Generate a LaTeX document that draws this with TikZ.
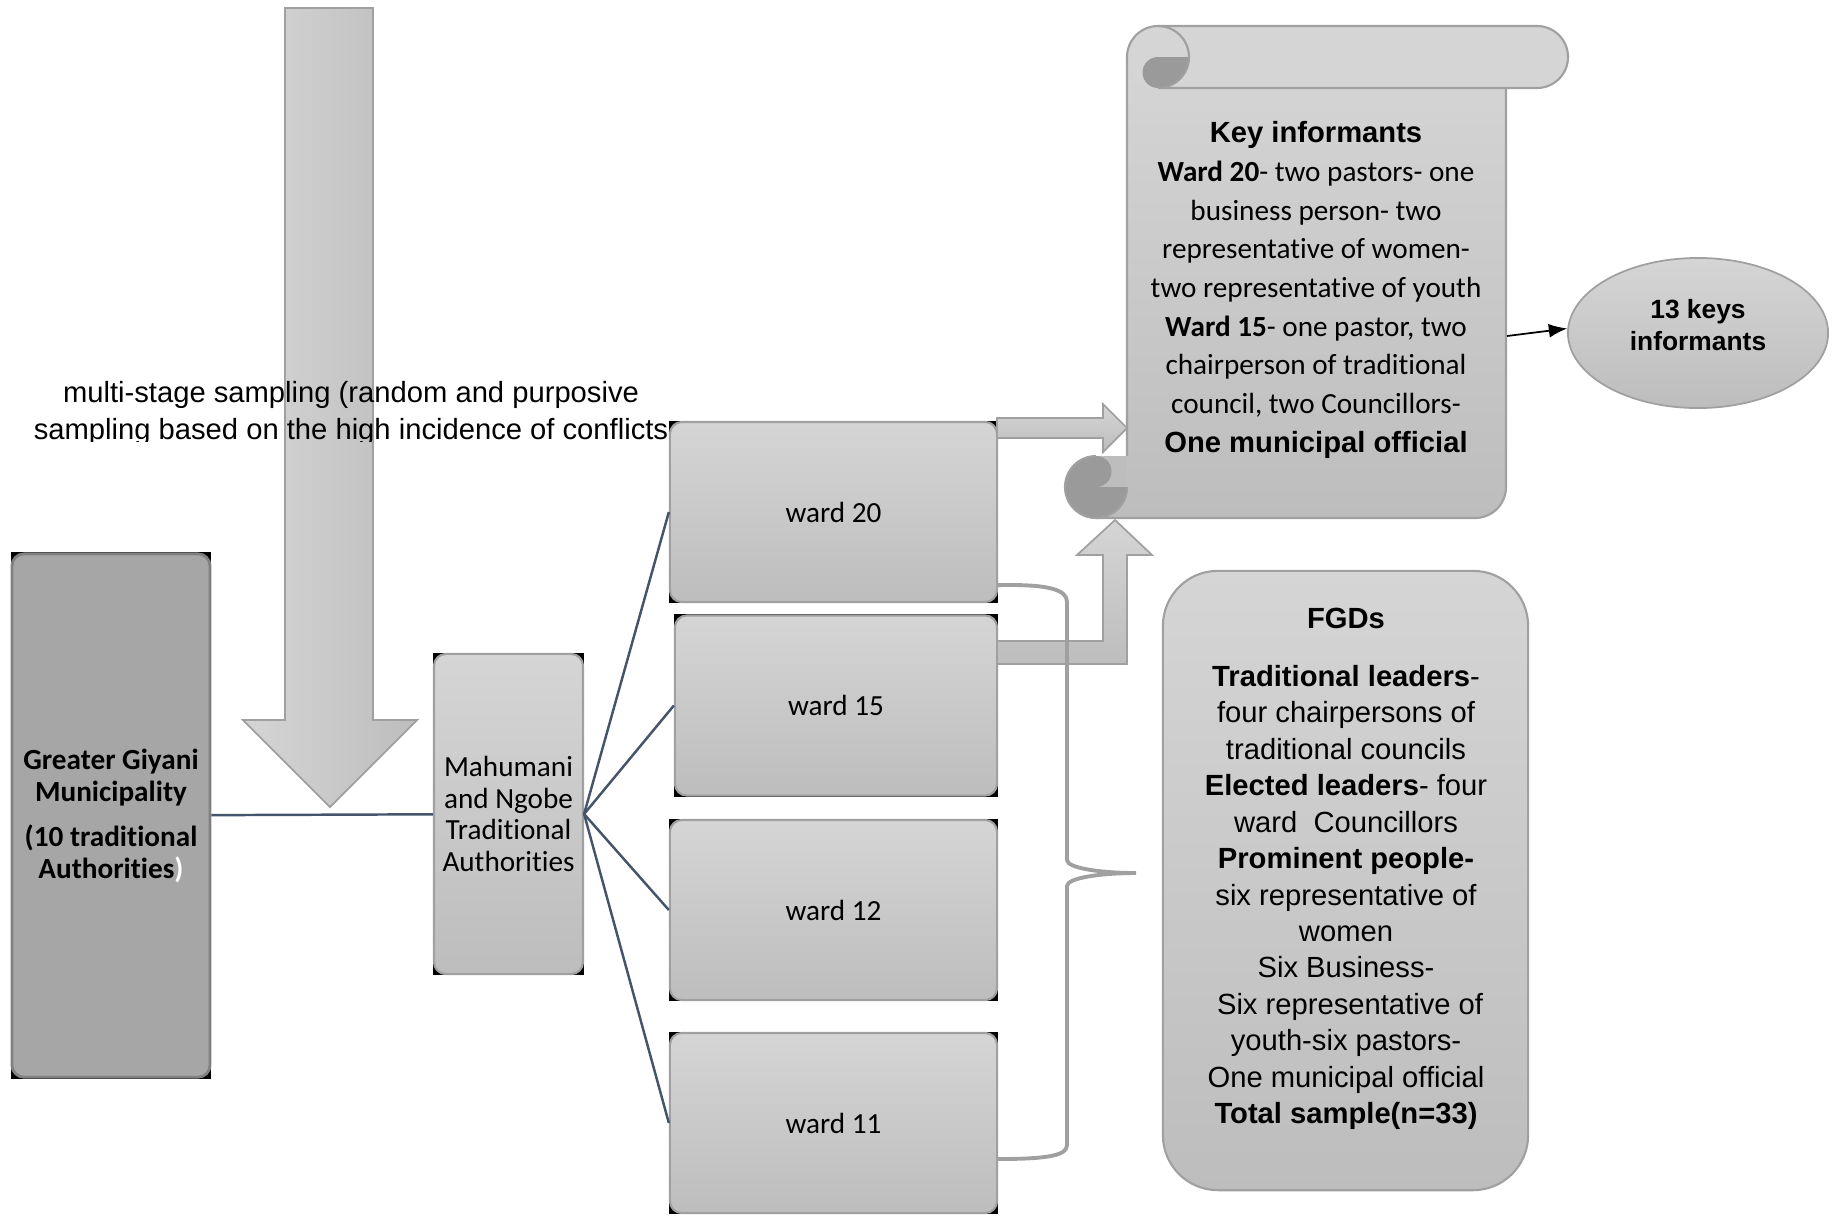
\documentclass[tikz,border=0pt]{standalone}
\usepackage{fontspec}
\setmainfont{Carlito}[Ligatures=NoCommon]
\newfontfamily\arialfont{Liberation Sans}
\usepackage{xcolor}
\usetikzlibrary{arrows.meta,calc,shapes.geometric}
\definecolor{boxtop}{HTML}{D5D5D5}
\definecolor{boxbot}{HTML}{BDBDBD}
\definecolor{boxedge}{HTML}{A0A0A0}
\definecolor{curlgrey}{HTML}{9A9A9A}
\definecolor{darkfill}{HTML}{A6A6A6}
\definecolor{darkedge}{HTML}{808080}
\definecolor{linkcol}{HTML}{44546A}
\pgfdeclarelayer{background}
\pgfsetlayers{background,main}

\begin{document}
\begin{tikzpicture}[x=0.01cm,y=-0.01cm,>=Latex,
  every node/.style={font=\fontsize{8.3}{11}\selectfont,inner sep=0pt,align=center},
  greybox/.style={draw=boxedge,line width=0.6pt,rounded corners=1.2mm,top color=boxtop,bottom color=boxbot},
  wardbox/.style={greybox,minimum width=3.27cm,minimum height=1.8cm},
  link/.style={draw=linkcol,line width=0.7pt},
  blockarrow/.style={draw=boxedge,line width=0.5pt,top color=boxtop,bottom color=boxbot},
  arial/.style={font=\arialfont\fontsize{8.3}{10.36}\selectfont}]
  \useasboundingbox (0,0) rectangle (1840,1217);

  % big sampling arrow
  \shade[left color=boxtop,right color=boxbot,draw=boxedge,line width=0.5pt]
    (285,8) -- (373,8) -- (373,720) -- (417,720) -- (330,807) -- (243,720) -- (285,720) -- cycle;
  \begin{scope}
    \clip (0,340) rectangle (700,441);
    \node[arial,font=\arialfont\fontsize{8.3}{10.6}\selectfont] (msamp) at (351,413.5)
      {multi-stage sampling (random and purposive\\sampling based on the high incidence of conflicts};
  \end{scope}

  % boxes
  \node[draw=darkedge,line width=0.8pt,fill=darkfill,rounded corners=1.2mm,
        minimum width=1.98cm,minimum height=5.23cm,font=\fontsize{8.3}{9.1}\selectfont\bfseries]
    (ggm) at (111,815.5) {Greater Giyani\\Municipality\\[3.7pt](10 traditional\\Authorities\textcolor{white}{)}};
  \node[greybox,minimum width=1.49cm,minimum height=3.2cm,font=\fontsize{8.3}{9}\selectfont]
    (mta) at (508.5,814) {Mahumani\\and Ngobe\\Traditional\\Authorities};
  \node[wardbox] (w20) at (833.5,512) {ward 20};
  \node[wardbox,minimum width=3.22cm] (w15) at (836,705.5) {ward 15};
  \node[wardbox] (w12) at (833.5,910) {ward 12};
  \node[wardbox] (w11) at (833.5,1123) {ward 11};
  \begin{pgfonlayer}{background}
    \foreach \b in {ggm,mta,w20,w15,w12,w11}
      \fill[black] (\b.south west) rectangle (\b.north east);
  \end{pgfonlayer}

  \draw[link] (ggm) -- (mta);
  \foreach \w in {w20,w15,w12,w11}
    \draw[link] (mta.east) -- (\w.west);

  % scroll
  \shade[top color=boxtop,bottom color=boxbot]
    (1127,57) -- (1127,456) -- (1096,456) -- (1096,518) -- (1475,518)
    arc[start angle=90,end angle=0,radius=31] -- (1506,57) -- cycle;
  \fill[boxtop,rounded corners=3.1mm] (1127,26) rectangle (1568,88);
  \fill[curlgrey] (1158,57) -- (1189,57) arc[start angle=0,end angle=90,radius=31]
    arc[start angle=90,end angle=270,radius=15.5] -- cycle;
  \fill[curlgrey] (1096,487) circle[radius=31];
  \fill[boxbot] (1096,456) rectangle (1127,487);
  \fill[curlgrey] (1096,456) arc[start angle=270,end angle=450,radius=15.5] -- cycle;
  \begin{scope}[draw=boxedge,line width=0.6pt]
    \draw (1127,456) -- (1127,57) arc[start angle=180,end angle=270,radius=31] -- (1537,26)
      arc[start angle=270,end angle=450,radius=31] -- (1158,88);
    \draw (1158,26) arc[start angle=270,end angle=450,radius=31];
    \draw (1506,88) -- (1506,487) arc[start angle=0,end angle=90,radius=31] -- (1096,518);
    \draw (1096,456) arc[start angle=270,end angle=0,radius=31];
  \end{scope}
  \node (kinfo) at (1316,290) {{\arialfont\bfseries Key informants}\\
    \textbf{Ward 20}- two pastors- one\\
    business person- two\\
    representative of women-\\
    two representative of youth\\
    \textbf{Ward 15}- one pastor, two\\
    chairperson of traditional\\
    council, two Councillors-\\
    {\arialfont\bfseries One municipal official}};

  \node[ellipse,draw=boxedge,line width=0.5pt,top color=boxtop,bottom color=boxbot,
        minimum width=2.6cm,minimum height=1.5cm] (kin) at (1698,333) {};
  \node[font=\arialfont\bfseries\fontsize{7.5}{9}\selectfont] (kint) at (1698,325) {13 keys\\informants};
  \coordinate (kiout) at (1507,336);
  \draw[->,line width=0.5pt] (kiout) -- (kin.178);

  % block arrows into the scroll
  \shade[blockarrow] (997,418) -- (1103,418) -- (1103,404) -- (1127,428) -- (1103,452)
    -- (1103,438) -- (997,438) -- cycle;
  \shade[blockarrow] (997,641) -- (1103,641) -- (1103,555) -- (1077,555) -- (1115,520)
    -- (1152,555) -- (1127,555) -- (1127,664) -- (997,664) -- cycle;

  % FGDs
  \node[draw=boxedge,line width=0.6pt,rounded corners=5.5mm,top color=boxtop,bottom color=boxbot,
        minimum width=3.65cm,minimum height=6.19cm] (fgd) at (1345.5,880.5) {};
  \node[arial,font=\arialfont\bfseries\fontsize{8.3}{10.36}\selectfont] (fgdt) at (1346,618) {FGDs};
  \node[arial] (fgdl) at (1346,897.5) {\textbf{Traditional leaders}-\\
    four chairpersons of\\
    traditional councils\\
    \textbf{Elected leaders}- four\\
    ward~~Councillors\\
    \textbf{Prominent people-}\\
    six representative of\\
    women\\
    Six Business-\\
    ~Six representative of\\
    youth-six pastors-\\
    One municipal official\\
    \textbf{Total sample(n=33)}};

  \draw[boxedge,line width=1.1pt] ($(w20.south east)+(0,-18)$) .. controls (1050,584) and (1067,590) .. (1067,602)
    -- (1067,860) .. controls (1067,868) and (1100,873) .. (1136,873)
    .. controls (1100,873) and (1067,878) .. (1067,886) -- (1067,1145)
    .. controls (1067,1155) and (1050,1159) .. ($(w11.east)+(0,36)$);
\end{tikzpicture}
\end{document}
